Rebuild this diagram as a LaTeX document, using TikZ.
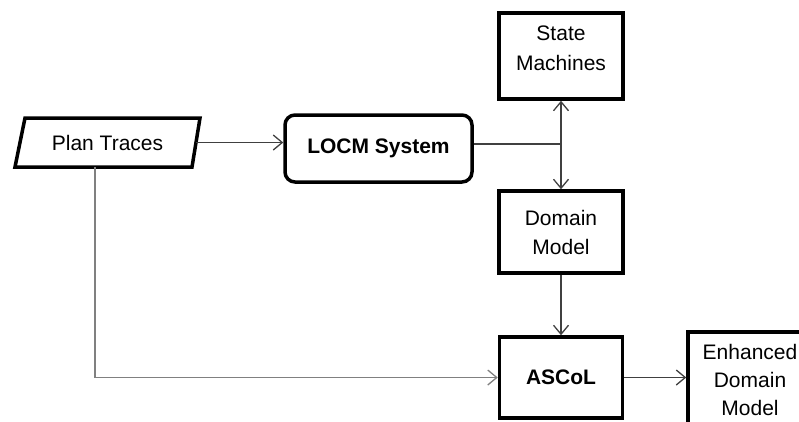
\documentclass[tikz,border=0pt]{standalone}
\usepackage{fontspec}
\setmainfont{Liberation Sans}
\usetikzlibrary{arrows.meta}
\begin{document}
\begin{tikzpicture}[x=1pt,y=-1pt,
  box/.style={draw=black, line width=3.5pt, fill=white, align=center,
    font=\fontsize{21}{29}\selectfont, inner sep=0pt},
  txt/.style={align=center, font=\fontsize{21}{30}\selectfont, inner sep=0pt},
  plain/.style={draw=black!75, line width=1.3pt},
  conn/.style={plain, -{Straight Barb[length=9pt,width=15pt,line width=1.3pt]}},
  gconn/.style={conn, draw=black!50}]
\useasboundingbox (0,0) rectangle (799,421);
\clip (0,0) rectangle (799,421);
% Plan Traces (parallelogram)
\draw[line width=3.5pt, line join=miter, fill=white] (25,118) -- (200,118) -- (192,167) -- (15,167) -- cycle;
\node[txt, minimum width=177pt, minimum height=49pt] (pt) at (107.5,142.5) {Plan Traces};
\coordinate (ptb) at (95,167);
% boxes
\node[box, rounded corners=10pt, minimum width=187pt, minimum height=67pt, font=\fontsize{21}{29}\selectfont\bfseries] (locm) at (378.5,148.5) {LOCM System};
\node[box, minimum width=124pt, minimum height=86pt,
  label={[txt, yshift=8pt]center:{State\\Machines}}] (sm) at (561,56) {};
\node[box, minimum width=124pt, minimum height=82pt] (dm) at (561,232) {Domain\\Model};
\node[box, minimum width=123pt, minimum height=81pt, font=\fontsize{21}{29}\selectfont\bfseries] (asc) at (561,377.5) {ASCoL};
\node[box, minimum width=124pt, minimum height=102pt,
  label={[txt, font=\fontsize{21}{28}\selectfont, yshift=3pt]center:{Enhanced\\Domain\\Model}}] (edm) at (750,383) {};
\coordinate (j) at (561,144);
% connectors
\draw[conn] (pt.east) -- (pt.east -| locm.west);
\draw[plain] (locm.east |- j) -- (j);
\draw[conn] (j) -- (sm.south);
\draw[conn] (j) -- (dm.north);
\draw[conn] (dm) -- (asc);
\draw[conn] (asc.east) -- (asc.east -| edm.west);
\draw[gconn] (ptb) |- (asc.west);
\end{tikzpicture}
\end{document}
